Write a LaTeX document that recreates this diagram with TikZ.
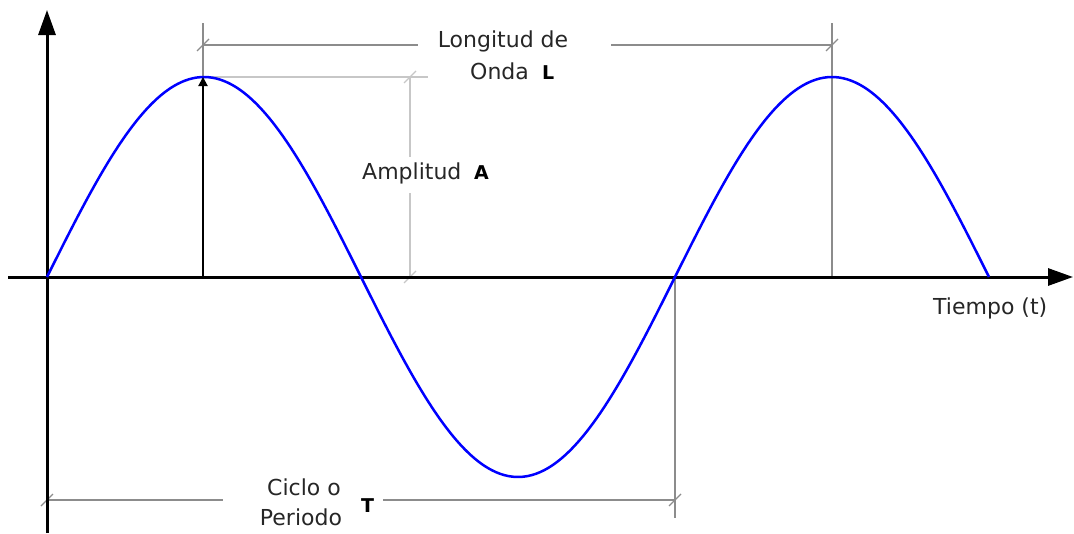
\documentclass[tikz,border=0pt]{standalone}
\usepackage{fontspec}
\setmainfont{DejaVu Sans}
\usetikzlibrary{arrows.meta}
\begin{document}
\begin{tikzpicture}[x=1pt,y=-1pt,
  lbl/.style={font=\fontsize{22}{26}\selectfont, inner sep=0pt, text=black!85},
  bl/.style={font=\fontsize{19}{22}\selectfont\bfseries, inner sep=0pt, text=black},
  dimdark/.style={draw=black!45, line width=1.6pt},
  dimlight/.style={draw=black!22, line width=1.6pt},
  axisline/.style={draw=black, line width=3pt, -{Triangle[length=25pt,width=17pt]}},
  wave/.style={draw=blue, line width=2.5pt},
  tickmark/.style={line width=1.2pt},
]
\useasboundingbox (0,0) rectangle (1074,533);
% coordinates
\coordinate (O) at (47,277);
\coordinate (ytop) at (47,10);
\coordinate (ybot) at (47,533);
\coordinate (xl) at (8,277);
\coordinate (xr) at (1073,277);
\coordinate (P1) at (203,277);
\coordinate (P1top) at (203,77);
\coordinate (P1ext) at (203,23);
\coordinate (P2) at (832,277);
\coordinate (P2ext) at (832,23);
\coordinate (Z2) at (675,277);
\coordinate (Z2ext) at (675,518);
% longitud dimension
\coordinate (La) at (203,45);
\coordinate (Lg1) at (418,45);
\coordinate (Lg2) at (611,45);
\coordinate (Lb) at (832,45);
% amplitude dimension
\coordinate (Aext) at (428,77);
\coordinate (Aa) at (410,77);
\coordinate (Ag1) at (410,157);
\coordinate (Ag2) at (410,193);
\coordinate (Ab) at (410,277);
% period dimension
\coordinate (Ta) at (47,500);
\coordinate (Tg1) at (223,500);
\coordinate (Tg2) at (383,500);
\coordinate (Tb) at (675,500);

% extension lines
\draw[dimdark] (P1ext) -- (P1);
\draw[dimdark] (P2ext) -- (P2);
\draw[dimdark] (Z2) -- (Z2ext);
\draw[dimlight] (P1top) -- (Aext);

% dimension lines
\draw[dimdark] (La) -- (Lg1);
\draw[dimdark] (Lg2) -- (Lb);
\draw[dimlight] (Aa) -- (Ag1);
\draw[dimlight] (Ag2) -- (Ab);
\draw[dimdark] (Ta) -- (Tg1);
\draw[dimdark] (Tg2) -- (Tb);

% ticks
\foreach \c/\s in {La/dimdark, Lb/dimdark, Aa/dimlight, Ab/dimlight, Ta/dimdark, Tb/dimdark}
  \draw[\s, tickmark, shift={(\c)}] (-6,6) -- (6,-6);

% axes
\draw[axisline] (xl) -- (xr);
\draw[axisline] (ybot) -- (ytop);

% wave
\draw[wave] plot[domain=0:942, samples=240, smooth] ({47+\x},{277-200*sin(\x/628*360)});

% amplitude arrow
\draw[line width=2pt, -{Triangle[length=9pt,width=9pt]}] (P1) -- (P1top);

% labels
\node[lbl, anchor=base] (long1) at (503,47) {Longitud de};
\node[lbl, anchor=base west] (onda) at (470,79) {Onda};
\node[bl, anchor=base west] (Lbold) at (542,79) {L};
\node[lbl, anchor=base west] (amp) at (362,179) {Amplitud};
\node[bl, anchor=base west] (Abold) at (474,179) {A};
\node[lbl, anchor=base west] (tiempo) at (933,314) {Tiempo (t)};
\node[lbl, anchor=base] (ciclo) at (304,495) {Ciclo o};
\node[lbl, anchor=base] (periodo) at (301,525) {Periodo};
\node[bl, anchor=base west] (Tbold) at (361,512) {T};
\end{tikzpicture}
\end{document}
